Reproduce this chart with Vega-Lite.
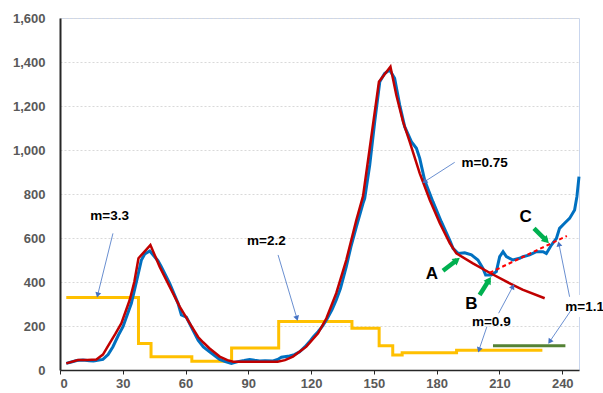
{
 "$schema": "https://vega.github.io/schema/vega-lite/v6.json",
 "width": 519, "height": 352,
 "autosize": {"type": "none"},
 "padding": {"left": 60, "top": 18, "right": 24, "bottom": 23},
 "config": {"view": {"stroke": "#C9D6EE", "strokeWidth": 1}},
 "datasets": {
  "blue": [
   {"d":3,"v":30},{"d":5,"v":35},{"d":8,"v":43},{"d":11,"v":45},{"d":14,"v":42},{"d":16,"v":41},{"d":18,"v":44},{"d":20.5,"v":48},{"d":23,"v":70},{"d":25.3,"v":106},{"d":28,"v":160},{"d":30.1,"v":197},{"d":34.1,"v":303},{"d":36.5,"v":400},{"d":38.9,"v":500},{"d":40.5,"v":527},{"d":42.9,"v":541},{"d":45.2,"v":515},{"d":46.8,"v":497},{"d":48.4,"v":470},{"d":52.4,"v":394},{"d":56.4,"v":303},{"d":58,"v":250},{"d":60.4,"v":240},{"d":63.5,"v":182},{"d":66,"v":135},{"d":68.5,"v":105},{"d":71.5,"v":83},{"d":76.3,"v":48},{"d":79,"v":38},{"d":81.9,"v":30},{"d":85,"v":38},{"d":88,"v":43},{"d":90.6,"v":48},{"d":93,"v":44},{"d":95.4,"v":41},{"d":98,"v":42},{"d":101.8,"v":41},{"d":104,"v":48},{"d":105.8,"v":58},{"d":109.7,"v":64},{"d":112,"v":70},{"d":114.5,"v":83},{"d":117,"v":105},{"d":119.3,"v":129},{"d":121,"v":150},{"d":123.3,"v":174},{"d":125.5,"v":200},{"d":127.3,"v":227},{"d":130,"v":275},{"d":132,"v":318},{"d":134,"v":370},{"d":136.8,"v":470},{"d":139,"v":560},{"d":141.6,"v":651},{"d":144.8,"v":758},{"d":145.6,"v":780},{"d":148,"v":932},{"d":150.4,"v":1129},{"d":152.8,"v":1310},{"d":155.1,"v":1348},{"d":157.5,"v":1364},{"d":159.9,"v":1326},{"d":162.3,"v":1205},{"d":164.7,"v":1106},{"d":167.9,"v":1038},{"d":170.3,"v":1008},{"d":171.9,"v":962},{"d":174.2,"v":864},{"d":178.2,"v":765},{"d":182.2,"v":674},{"d":186.2,"v":591},{"d":187.8,"v":553},{"d":190.2,"v":530},{"d":193.4,"v":533},{"d":196.6,"v":523},{"d":199.7,"v":500},{"d":202.1,"v":462},{"d":203.4,"v":432},{"d":206.1,"v":432},{"d":208.5,"v":447},{"d":210.1,"v":515},{"d":211.7,"v":538},{"d":213.3,"v":515},{"d":216.4,"v":500},{"d":219.6,"v":508},{"d":221.2,"v":515},{"d":224.4,"v":523},{"d":227.6,"v":538},{"d":230.8,"v":538},{"d":232.4,"v":530},{"d":234.8,"v":568},{"d":237.2,"v":598},{"d":238.7,"v":644},{"d":241.1,"v":667},{"d":243.5,"v":689},{"d":245.9,"v":727},{"d":247,"v":788},{"d":248,"v":879}
  ],
  "red": [
   {"d":3,"v":30},{"d":8.6,"v":45},{"d":13,"v":46},{"d":17.4,"v":48},{"d":20.5,"v":70},{"d":23.7,"v":121},{"d":26.5,"v":165},{"d":29.3,"v":212},{"d":33.3,"v":318},{"d":35.5,"v":400},{"d":37.5,"v":508},{"d":43.2,"v":568},{"d":47.6,"v":470},{"d":52.4,"v":379},{"d":57.2,"v":288},{"d":62,"v":212},{"d":66,"v":150},{"d":68.5,"v":125},{"d":71.5,"v":98},{"d":76.3,"v":61},{"d":80,"v":45},{"d":82.7,"v":38},{"d":104,"v":38},{"d":107.5,"v":45},{"d":111.3,"v":61},{"d":117.7,"v":106},{"d":123.3,"v":167},{"d":127.3,"v":235},{"d":132,"v":349},{"d":136.8,"v":500},{"d":141.6,"v":682},{"d":144.8,"v":790},{"d":148,"v":1008},{"d":152.4,"v":1310},{"d":157.9,"v":1379},{"d":160.7,"v":1250},{"d":163.9,"v":1129},{"d":167,"v":1040},{"d":171.9,"v":894},{"d":176.7,"v":773},{"d":181.5,"v":667},{"d":186.3,"v":576},{"d":189.4,"v":530},{"d":197.3,"v":485},{"d":205.3,"v":442},{"d":214.9,"v":394},{"d":221,"v":365},{"d":231.6,"v":326}
  ],
  "yellow": [
   {"d":3,"v":330},{"d":37.5,"v":120},{"d":43.5,"v":60},{"d":63,"v":40},{"d":82,"v":100},{"d":104.5,"v":220},{"d":139.5,"v":190},{"d":152.5,"v":110},{"d":159,"v":68},{"d":163.5,"v":78},{"d":189.5,"v":90},{"d":230.5,"v":90}
  ],
  "dashed": [{"d":205.3,"v":442},{"d":242.2,"v":609}],
  "green": [{"d":206.9,"v":110},{"d":241.5,"v":110}],
  "box": [{"d":241.3,"d2":256,"v":241,"v2":341}],
  "arrows": [
   {"d":25.3,"v":621,"d2":18.0,"v2":341},
   {"d":104.2,"v":523,"d2":113.2,"v2":235},
   {"d":188.6,"v":944,"d2":174.2,"v2":856},
   {"d":209.6,"v":258,"d2":216.4,"v2":379},
   {"d":204.0,"v":197,"d2":200.2,"v2":91},
   {"d":243.5,"v":333,"d2":238.4,"v2":573},
   {"d":244.3,"v":273,"d2":234.0,"v2":129}
  ],
  "garrows": [
   {"d":183.0,"v":451,"d2":189.7,"v2":500},
   {"d":200.5,"v":341,"d2":205.0,"v2":409},
   {"d":226.5,"v":644,"d2":232.4,"v2":588}
  ],
  "labels": [
   {"d":23.7,"v":700,"t":"m=3.3"},
   {"d":98.6,"v":588,"t":"m=2.2"},
   {"d":202.9,"v":940,"t":"m=0.75"},
   {"d":206.1,"v":217,"t":"m=0.9"},
   {"d":250.7,"v":285,"t":"m=1.1"}
  ],
  "letters": [
   {"d":177.7,"v":436,"t":"A"},
   {"d":196.6,"v":300,"t":"B"},
   {"d":222.5,"v":697,"t":"C"}
  ]
 },
 "encoding": {
  "x": {"field": "d", "type": "quantitative",
   "scale": {"domain": [0, 248], "nice": false, "zero": false},
   "axis": {"values": [0,30,60,90,120,150,180,210,240], "format": "d", "title": null, "grid": false,
    "domainColor": "#262626", "domainWidth": 1.5, "tickColor": "#262626", "tickSize": 4,
    "labelPadding": 3, "labelFont": "Liberation Sans", "labelFontSize": 13, "labelFontWeight": "bold", "labelColor": "#595959"}},
  "y": {"field": "v", "type": "quantitative",
   "scale": {"domain": [0, 1600], "nice": false},
   "axis": {"values": [0,200,400,600,800,1000,1200,1400,1600], "format": ",.0f", "title": null, "grid": true,
    "gridColor": "#D9D9D9", "gridDash": [2, 2], "domainColor": "#262626", "domainWidth": 2, "ticks": false,
    "labelPadding": 15, "labelFont": "Liberation Sans", "labelFontSize": 13, "labelFontWeight": "bold", "labelColor": "#595959"}}
 },
 "layer": [
  {"data": {"name": "yellow"}, "mark": {"type": "line", "color": "#FFC000", "strokeWidth": 3, "interpolate": "step-after"}},
  {"data": {"name": "blue"}, "mark": {"type": "line", "color": "#0070C0", "strokeWidth": 3}},
  {"data": {"name": "red"}, "mark": {"type": "line", "color": "#C00000", "strokeWidth": 2.5}},
  {"data": {"name": "dashed"}, "mark": {"type": "line", "color": "#FF0000", "strokeWidth": 2, "strokeDash": [4, 3]}},
  {"data": {"name": "green"}, "mark": {"type": "line", "color": "#548235", "strokeWidth": 3}},
  {"data": {"name": "box"}, "mark": {"type": "rect", "fill": "white"},
   "encoding": {"x2": {"field": "d2"}, "y2": {"field": "v2"}}},
  {"data": {"name": "arrows"}, "mark": {"type": "rule", "color": "#4472C4", "strokeWidth": 0.8},
   "encoding": {"x2": {"field": "d2"}, "y2": {"field": "v2"}}},
  {"data": {"name": "arrows"},
   "transform": [{"calculate": "atan2((datum.d2 - datum.d) * 2.093, (datum.v2 - datum.v) * 0.22) * 180 / PI", "as": "ang"}],
   "mark": {"type": "point", "shape": "triangle-up", "filled": true, "color": "#4472C4", "size": 35, "opacity": 1},
   "encoding": {"x": {"field": "d2", "type": "quantitative"}, "y": {"field": "v2", "type": "quantitative"},
    "angle": {"field": "ang", "type": "quantitative", "scale": null}}},
  {"data": {"name": "garrows"}, "mark": {"type": "rule", "color": "#00B050", "strokeWidth": 4.5},
   "encoding": {"x2": {"field": "d2"}, "y2": {"field": "v2"}}},
  {"data": {"name": "garrows"},
   "transform": [{"calculate": "atan2((datum.d2 - datum.d) * 2.093, (datum.v2 - datum.v) * 0.22) * 180 / PI", "as": "ang"}],
   "mark": {"type": "point", "shape": "triangle-up", "filled": true, "color": "#00B050", "size": 70, "opacity": 1},
   "encoding": {"x": {"field": "d2", "type": "quantitative"}, "y": {"field": "v2", "type": "quantitative"},
    "angle": {"field": "ang", "type": "quantitative", "scale": null}}},
  {"data": {"name": "labels"}, "mark": {"type": "text", "font": "Liberation Sans", "fontSize": 13.5, "fontWeight": "bold", "color": "#000000"},
   "encoding": {"text": {"field": "t"}}},
  {"data": {"name": "letters"}, "mark": {"type": "text", "font": "Liberation Sans", "fontSize": 17, "fontWeight": "bold", "color": "#000000"},
   "encoding": {"text": {"field": "t"}}}
 ]
}
